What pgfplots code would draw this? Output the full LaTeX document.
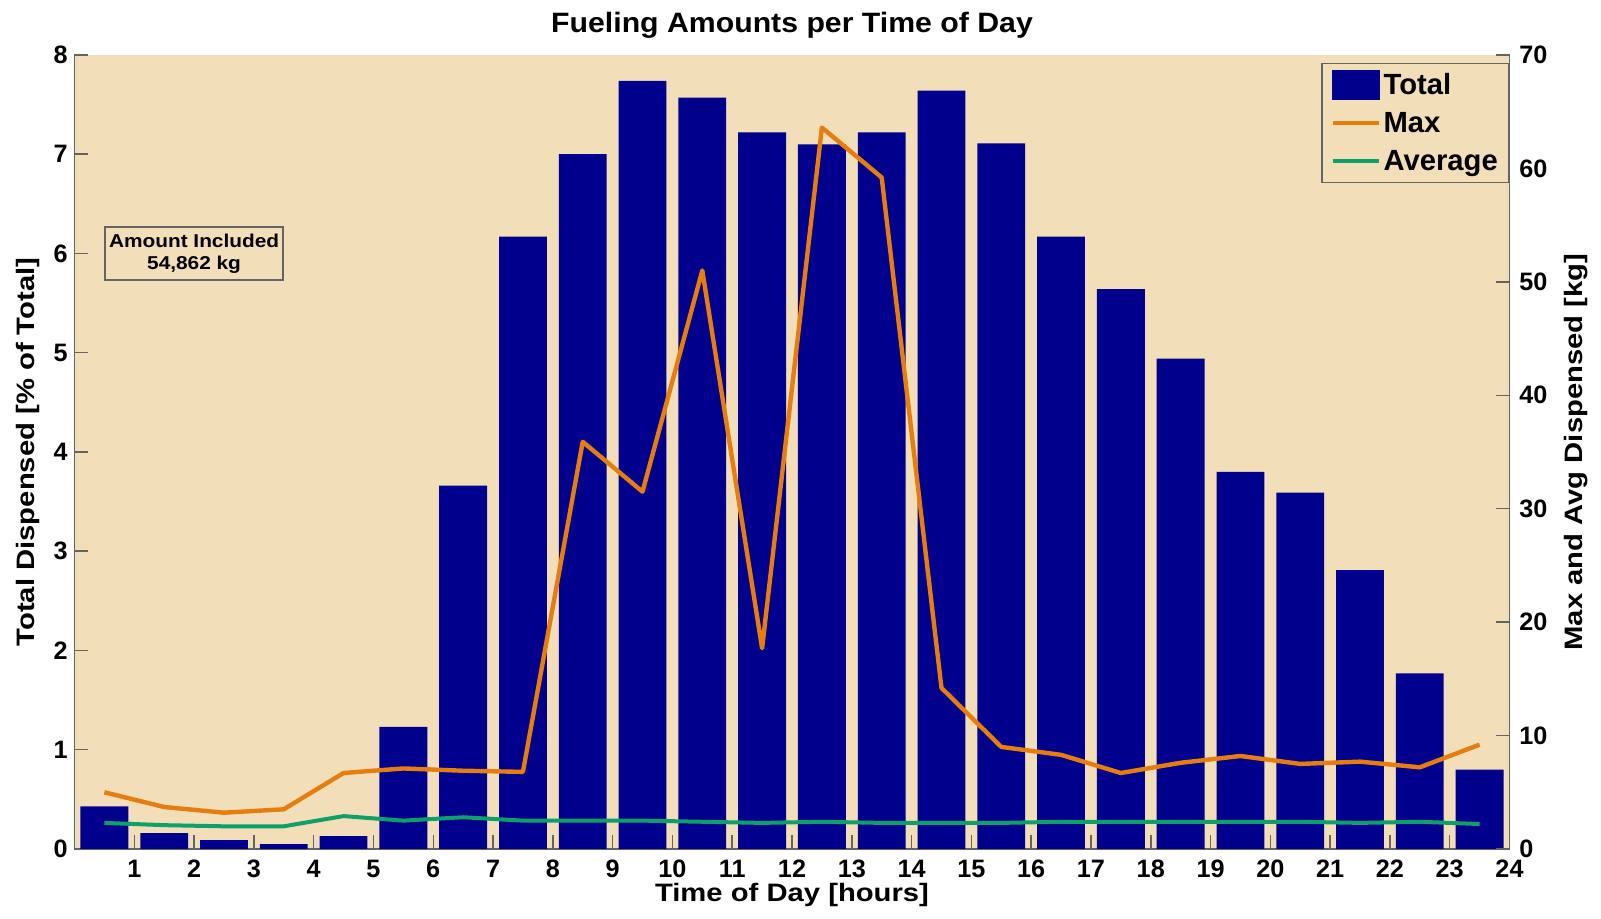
\documentclass[border=0pt]{standalone}
\usepackage{fontspec}
\setmainfont{Liberation Sans}
\newfontfamily\titlefont{Liberation Sans}[FakeStretch=1.08]
\newfontfamily\labfont{Liberation Sans}[FakeStretch=1.16]
\newfontfamily\boxfont{Liberation Sans}[FakeStretch=1.12]
\usepackage{pgfplots}
\pgfplotsset{compat=1.18}
\definecolor{bg}{RGB}{242,222,185}
\definecolor{navybar}{RGB}{0,0,140}
\definecolor{maxc}{RGB}{230,125,15}
\definecolor{avgc}{RGB}{15,160,105}
\definecolor{axgray}{RGB}{100,100,100}

\pgfplotstableread{
x total
0.5 0.43
1.5 0.16
2.5 0.09
3.5 0.05
4.5 0.13
5.5 1.23
6.5 3.66
7.5 6.17
8.5 7.00
9.5 7.74
10.5 7.57
11.5 7.22
12.5 7.10
13.5 7.22
14.5 7.64
15.5 7.11
16.5 6.17
17.5 5.64
18.5 4.94
19.5 3.80
20.5 3.59
21.5 2.81
22.5 1.77
23.5 0.80
}\totaltable

\pgfplotstableread{
x max avg
0.5 5.0 2.3
1.5 3.7 2.1
2.5 3.2 2.0
3.5 3.5 2.0
4.5 6.7 2.9
5.5 7.1 2.5
6.5 6.9 2.8
7.5 6.8 2.5
8.5 35.9 2.5
9.5 31.5 2.5
10.5 51.0 2.4
11.5 17.7 2.3
12.5 63.6 2.4
13.5 59.2 2.3
14.5 14.2 2.3
15.5 9.0 2.3
16.5 8.3 2.4
17.5 6.7 2.4
18.5 7.6 2.4
19.5 8.2 2.4
20.5 7.5 2.4
21.5 7.7 2.3
22.5 7.2 2.4
23.5 9.2 2.2
}\linetable

\begin{document}
\begin{tikzpicture}
\begin{axis}[
  name=ax1, at={(0,0)}, anchor=south west,
  scale only axis, width=717.5pt, height=397pt,
  xmin=0, xmax=24, ymin=0, ymax=8,
  axis x line*=bottom, axis y line*=left,
  tick align=inside, major tick length=7pt,
  xtick={1,2,...,24}, ytick={0,1,...,8},
  axis line style={draw=axgray, line width=0.75pt},
  tick style={draw=axgray, line width=0.75pt},
  axis background/.style={fill=bg},
  /pgf/number format/assume math mode=true,
  ticklabel style={font=\bfseries\fontsize{12.6}{13}\selectfont},
  xticklabel style={anchor=base, inner sep=0pt, yshift=-14.5pt},
  yticklabel style={anchor=east, inner sep=0pt, xshift=-3.25pt},
  title={Fueling Amounts per Time of Day},
  title style={at={(axis description cs:0.5,1)}, anchor=base, yshift=5pt, inner sep=0pt,
    font=\titlefont\bfseries\fontsize{14}{16}\selectfont},
  xlabel={Time of Day [hours]},
  xlabel style={at={(axis description cs:0.5,0)}, anchor=base, yshift=-26.5pt, inner sep=0pt,
    font=\labfont\bfseries\fontsize{12.6}{14}\selectfont},
  ylabel={Total Dispensed [\% of Total]},
  ylabel style={at={([xshift=-19.75pt]axis description cs:0,0.5)}, rotate=0, anchor=base, inner sep=0pt,
    font=\labfont\bfseries\fontsize{12.6}{14}\selectfont},
]
\addplot[ybar, bar width=0.8, fill=navybar, draw=none] table[x=x, y=total] {\totaltable};
\node[draw=axgray, fill=bg, line width=0.75pt, minimum width=89pt, minimum height=26.5pt,
  align=center, inner sep=0pt, font=\boxfont\bfseries\fontsize{9.3}{11}\selectfont]
  at (axis cs:2,6) {Amount Included\\54,862 kg};
\end{axis}

\begin{axis}[
  name=ax2, at={(0,0)}, anchor=south west,
  scale only axis, width=717.5pt, height=397pt,
  xmin=0, xmax=24, ymin=0, ymax=70,
  axis x line=none, axis y line*=right,
  tick align=inside, major tick length=7pt,
  ytick={0,10,...,70},
  axis line style={draw=axgray, line width=0.75pt},
  tick style={draw=axgray, line width=0.75pt},
  /pgf/number format/assume math mode=true,
  ticklabel style={font=\bfseries\fontsize{12.6}{13}\selectfont},
  yticklabel style={anchor=west, inner sep=0pt, xshift=4.75pt},
  ylabel={Max and Avg Dispensed [kg]},
  ylabel style={at={([xshift=36.25pt]axis description cs:1,0.5)}, rotate=0, anchor=base, inner sep=0pt,
    font=\labfont\bfseries\fontsize{12.6}{14}\selectfont},
  legend image code/.code={\draw[#1] (0pt,0pt) -- (23pt,0pt);},
  legend cell align=left,
  legend style={at={(axis description cs:1,1)}, anchor=north east, xshift=0pt, yshift=-4pt,
    fill=bg, draw=axgray, line width=0.75pt, inner xsep=4.25pt, inner ysep=1.25pt,
    row sep=0pt, column sep=0pt,
    nodes={inner xsep=1.25pt, inner ysep=0pt, text height=14.25pt, text depth=4.75pt},
    font=\bfseries\fontsize{14.6}{16}\selectfont},
]
\addlegendimage{legend image code/.code={\fill[navybar] (0pt,-7pt) rectangle (23pt,7pt);}}
\addlegendentry{Total}
\addplot[maxc, line width=2.2pt, line join=round] table[x=x, y=max] {\linetable};
\addlegendentry{Max}
\addplot[avgc, line width=2pt, line join=round] table[x=x, y=avg] {\linetable};
\addlegendentry{Average}
\end{axis}
\pgfresetboundingbox
\path ([xshift=-37.25pt,yshift=-35pt]ax1.south west) rectangle ([xshift=45.75pt,yshift=27.5pt]ax1.north east);
\end{tikzpicture}
\end{document}
